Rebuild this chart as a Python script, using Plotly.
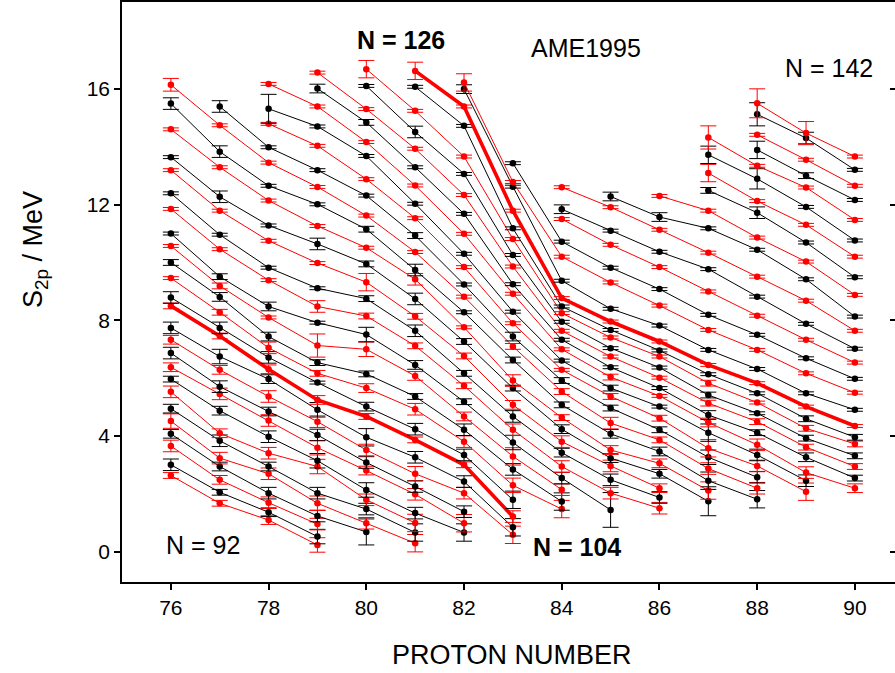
import plotly.graph_objects as go

# Proton number columns and first neutron number present in each column
Z_VALUES = [76, 77, 78, 79, 80, 81, 82, 83, 84, 85, 86, 87, 88, 89, 90]
N_START = [92, 92, 92, 92, 95, 96, 99, 102, 106, 109, 110, 113, 115, 118, 120]

# S2p (MeV) per proton number, in increasing N order starting at N_START
S2P_Z76 = [2.64, 3.01, 3.66, 4.08, 4.52, 4.95, 5.53, 5.97, 6.38, 6.87, 7.33, 7.74, 8.50, 8.79, 9.46, 10.00,
           10.57, 11.00, 11.85, 12.39, 13.19, 13.64, 14.60, 15.49, 16.14]
S2P_Z77 = [1.68, 2.06, 2.49, 2.95, 3.24, 3.84, 4.10, 4.88, 5.46, 5.71, 6.29, 6.75, 7.46, 7.74, 8.28, 8.81,
           9.19, 9.51, 10.46, 10.96, 11.79, 12.27, 13.29, 13.83, 14.74, 15.39]
S2P_Z78 = [1.10, 1.37, 1.70, 2.03, 2.70, 2.95, 3.41, 3.98, 4.54, 4.85, 5.37, 5.97, 6.31, 6.72, 7.05, 7.44,
           8.10, 8.48, 9.39, 9.82, 10.75, 11.28, 12.14, 12.65, 13.45, 13.98, 14.79, 15.31, 16.17]
S2P_Z79 = [0.24, 0.53, 0.96, 1.24, 1.68, 2.03, 2.95, 3.15, 3.60, 4.04, 4.50, 4.91, 5.25, 5.85, 6.17, 6.54,
           7.13, 7.92, 8.48, 9.11, 9.98, 10.64, 11.26, 12.01, 12.61, 13.19, 14.03, 14.70, 15.39, 16.01, 16.56]
S2P_Z80 = [0.69, 0.99, 1.48, 1.80, 2.14, 2.81, 3.09, 3.52, 3.96, 4.68, 5.02, 5.66, 6.15, 7.00, 7.51, 8.15,
           8.75, 9.32, 9.95, 10.51, 11.15, 11.62, 12.31, 12.88, 13.68, 14.16, 14.84, 15.30, 16.10, 16.68]
S2P_Z81 = [0.30, 0.67, 1.00, 1.34, 1.99, 2.26, 2.70, 3.27, 3.87, 4.24, 4.93, 5.37, 6.08, 6.46, 7.12, 7.64,
           8.14, 8.74, 9.42, 9.74, 10.36, 10.93, 11.53, 12.03, 12.66, 13.29, 13.93, 14.51, 15.24, 16.07, 16.62]
S2P_Z82 = [0.67, 0.99, 1.39, 2.03, 2.43, 3.01, 3.35, 3.81, 4.22, 4.68, 5.19, 5.74, 6.17, 6.77, 7.27, 7.76,
           8.28, 8.82, 9.24, 9.84, 10.30, 10.99, 11.68, 12.33, 13.06, 13.66, 14.72, 15.39, 15.99, 16.22]
S2P_Z83 = [0.59, 0.85, 1.22, 1.80, 2.30, 2.85, 3.30, 3.78, 4.22, 4.68, 5.08, 5.66, 5.92, 6.63, 7.10, 7.44,
           7.90, 8.30, 8.92, 9.25, 9.86, 10.26, 10.81, 11.18, 11.79, 12.62, 12.78, 13.43]
S2P_Z84 = [1.48, 1.74, 2.15, 2.55, 2.95, 3.43, 3.81, 4.24, 4.64, 5.08, 5.54, 5.92, 6.29, 6.61, 7.00, 7.33,
           7.64, 7.95, 8.25, 8.48, 8.77, 9.37, 10.20, 10.72, 11.50, 11.84, 12.60]
S2P_Z85 = [1.45, 2.03, 2.49, 2.97, 3.24, 3.52, 4.08, 4.45, 4.97, 5.37, 5.66, 6.04, 6.38, 6.75, 7.04, 7.41,
           7.67, 7.96, 8.40, 9.31, 9.82, 10.61, 11.10, 11.91, 12.28]
S2P_Z86 = [1.51, 1.88, 2.20, 2.70, 3.06, 3.47, 3.87, 4.22, 4.62, 5.02, 5.39, 5.66, 6.02, 6.37, 6.75, 6.96,
           7.27, 7.82, 8.51, 9.08, 9.84, 10.37, 11.13, 11.57, 12.30]
S2P_Z87 = [1.75, 2.12, 2.46, 2.88, 3.27, 3.58, 4.12, 4.47, 4.73, 5.14, 5.42, 5.83, 6.14, 6.46, 6.98, 7.67,
           8.19, 9.00, 9.77, 10.34, 11.18, 11.79, 12.49, 13.09, 13.72, 14.32]
S2P_Z88 = [1.82, 2.20, 2.58, 2.97, 3.35, 3.70, 4.12, 4.50, 4.79, 5.16, 5.48, 5.83, 6.32, 6.98, 7.50, 8.16,
           8.82, 9.51, 10.44, 10.86, 11.72, 12.12, 12.89, 13.34, 13.89, 14.41, 15.12, 15.50]
S2P_Z89 = [2.08, 2.46, 2.74, 3.27, 3.62, 3.93, 4.27, 4.60, 5.02, 5.48, 6.17, 6.69, 7.33, 7.88, 8.68, 9.42,
           10.03, 10.69, 11.30, 11.92, 12.59, 13.00, 13.55, 14.30, 14.47]
S2P_Z90 = [2.20, 2.55, 2.95, 3.32, 3.73, 3.96, 4.35, 4.91, 5.50, 5.98, 6.54, 7.02, 7.64, 8.13, 8.88, 9.49,
           10.20, 10.76, 11.47, 12.16, 12.65, 13.20, 13.66]

# uncertainties (MeV), same order
ERR_Z76 = [0.10, 0.20, 0.20, 0.15, 0.25, 0.15, 0.20, 0.10, 0.15, 0.20, 0.15, 0.20, 0.10, 0.20, 0.05, 0.10,
           0.05, 0.05, 0.05, 0.05, 0.05, 0.05, 0.05, 0.20, 0.22]
ERR_Z77 = [0.10, 0.10, 0.15, 0.15, 0.20, 0.20, 0.15, 0.15, 0.20, 0.20, 0.15, 0.25, 0.10, 0.20, 0.10, 0.15,
           0.10, 0.10, 0.05, 0.05, 0.05, 0.20, 0.05, 0.20, 0.05, 0.20]
ERR_Z78 = [0.15, 0.15, 0.20, 0.20, 0.20, 0.15, 0.20, 0.20, 0.20, 0.15, 0.20, 0.15, 0.15, 0.20, 0.20, 0.15,
           0.05, 0.15, 0.05, 0.05, 0.05, 0.05, 0.05, 0.05, 0.05, 0.05, 0.05, 0.50, 0.05]
ERR_Z79 = [0.25, 0.25, 0.20, 0.20, 0.25, 0.20, 0.25, 0.25, 0.25, 0.20, 0.20, 0.25, 0.15, 0.05, 0.10, 0.10,
           0.40, 0.05, 0.20, 0.05, 0.05, 0.20, 0.05, 0.05, 0.05, 0.05, 0.05, 0.05, 0.05, 0.15, 0.05]
ERR_Z80 = [0.45, 0.20, 0.20, 0.20, 0.25, 0.15, 0.20, 0.20, 0.30, 0.10, 0.15, 0.15, 0.10, 0.25, 0.25, 0.10,
           0.10, 0.30, 0.10, 0.05, 0.10, 0.05, 0.05, 0.05, 0.05, 0.05, 0.10, 0.05, 0.05, 0.30]
ERR_Z81 = [0.30, 0.30, 0.30, 0.20, 0.20, 0.20, 0.25, 0.20, 0.10, 0.20, 0.20, 0.10, 0.15, 0.15, 0.10, 0.20,
           0.10, 0.20, 0.20, 0.20, 0.05, 0.10, 0.05, 0.05, 0.05, 0.05, 0.05, 0.20, 0.05, 0.05, 0.30]
ERR_Z82 = [0.30, 0.30, 0.20, 0.20, 0.20, 0.10, 0.20, 0.20, 0.20, 0.15, 0.10, 0.10, 0.10, 0.10, 0.10, 0.05,
           0.05, 0.05, 0.05, 0.05, 0.05, 0.05, 0.05, 0.05, 0.05, 0.05, 0.05, 0.05, 0.15, 0.30]
ERR_Z83 = [0.30, 0.30, 0.20, 0.30, 0.25, 0.20, 0.30, 0.25, 0.20, 0.20, 0.15, 0.10, 0.20, 0.10, 0.10, 0.15,
           0.05, 0.05, 0.05, 0.05, 0.05, 0.05, 0.05, 0.05, 0.05, 0.05, 0.05, 0.05]
ERR_Z84 = [0.30, 0.30, 0.20, 0.20, 0.20, 0.15, 0.20, 0.15, 0.10, 0.10, 0.10, 0.10, 0.05, 0.05, 0.05, 0.05,
           0.05, 0.05, 0.05, 0.05, 0.05, 0.05, 0.05, 0.05, 0.05, 0.15, 0.05]
ERR_Z85 = [0.60, 0.20, 0.20, 0.20, 0.15, 0.15, 0.15, 0.20, 0.10, 0.10, 0.10, 0.10, 0.05, 0.05, 0.05, 0.05,
           0.05, 0.05, 0.05, 0.05, 0.05, 0.05, 0.05, 0.05, 0.15]
ERR_Z86 = [0.20, 0.20, 0.15, 0.15, 0.15, 0.15, 0.10, 0.10, 0.10, 0.05, 0.05, 0.05, 0.05, 0.05, 0.05, 0.05,
           0.05, 0.05, 0.05, 0.05, 0.05, 0.05, 0.05, 0.15, 0.05]
ERR_Z87 = [0.50, 0.30, 0.30, 0.20, 0.25, 0.30, 0.30, 0.15, 0.15, 0.10, 0.10, 0.10, 0.05, 0.05, 0.05, 0.05,
           0.05, 0.05, 0.05, 0.05, 0.05, 0.05, 0.10, 0.30, 0.30, 0.40]
ERR_Z88 = [0.30, 0.20, 0.20, 0.20, 0.20, 0.20, 0.10, 0.10, 0.05, 0.05, 0.05, 0.05, 0.05, 0.05, 0.05, 0.05,
           0.05, 0.05, 0.05, 0.05, 0.20, 0.05, 0.35, 0.05, 0.30, 0.05, 0.40, 0.50]
ERR_Z89 = [0.30, 0.20, 0.20, 0.15, 0.10, 0.10, 0.10, 0.10, 0.05, 0.05, 0.05, 0.05, 0.05, 0.05, 0.05, 0.05,
           0.05, 0.05, 0.05, 0.05, 0.05, 0.10, 0.05, 0.20, 0.40]
ERR_Z90 = [0.15, 0.10, 0.10, 0.10, 0.10, 0.10, 0.05, 0.05, 0.05, 0.05, 0.05, 0.05, 0.05, 0.05, 0.05, 0.05,
           0.05, 0.05, 0.05, 0.05, 0.05, 0.05, 0.05]

HIGHLIGHT_N = [104, 126]
Y_TICKS = [0, 4, 8, 12, 16]
X_TICKS = [76, 78, 80, 82, 84, 86, 88, 90]

S2P_COLUMNS = [S2P_Z76, S2P_Z77, S2P_Z78, S2P_Z79, S2P_Z80, S2P_Z81, S2P_Z82, S2P_Z83,
               S2P_Z84, S2P_Z85, S2P_Z86, S2P_Z87, S2P_Z88, S2P_Z89, S2P_Z90]
ERR_COLUMNS = [ERR_Z76, ERR_Z77, ERR_Z78, ERR_Z79, ERR_Z80, ERR_Z81, ERR_Z82, ERR_Z83,
               ERR_Z84, ERR_Z85, ERR_Z86, ERR_Z87, ERR_Z88, ERR_Z89, ERR_Z90]

FONT = "Liberation Sans, Arial, sans-serif"

# regroup by neutron number
lines = {}
for z, n0, vals, errs in zip(Z_VALUES, N_START, S2P_COLUMNS, ERR_COLUMNS):
    for i, (v, e) in enumerate(zip(vals, errs)):
        lines.setdefault(n0 + i, []).append((z, v, e))

fig = go.Figure()
for n in sorted(lines):
    pts = lines[n]
    color = "#ff0000" if n % 2 == 0 else "#000000"
    width = 3.6 if n in HIGHLIGHT_N else 1
    fig.add_trace(go.Scatter(
        x=[p[0] for p in pts], y=[p[1] for p in pts],
        mode="lines+markers",
        line=dict(color=color, width=width),
        marker=dict(color=color, size=6.5),
        error_y=dict(type="data", array=[p[2] for p in pts], visible=True,
                     color=color, thickness=1, width=8),
        showlegend=False, name=f"N = {n}",
    ))

# invisible trace for the right-side tick axis
fig.add_trace(go.Scatter(x=[None], y=[None], yaxis="y2", showlegend=False, hoverinfo="skip"))

x_min = 75
x_max = 75 + (895 - 122) / 48.86

fig.update_layout(
    width=895, height=673,
    margin=dict(l=122, r=0, t=2, b=91),
    paper_bgcolor="white", plot_bgcolor="white",
    font=dict(family=FONT, color="black"),
    xaxis=dict(range=[x_min, x_max], tickvals=X_TICKS, ticks="outside", ticklen=6,
               tickwidth=1.5, tickcolor="black", showline=True, linecolor="black",
               linewidth=1.5, mirror=True, showgrid=False, zeroline=False,
               tickfont=dict(size=21, family=FONT)),
    yaxis=dict(range=[-1.04, 19.0], tickvals=Y_TICKS, ticks="outside", ticklen=6,
               tickwidth=1.5, tickcolor="black", showline=True, linecolor="black",
               linewidth=1.5, showgrid=False, zeroline=False,
               tickfont=dict(size=21, family=FONT)),
    yaxis2=dict(range=[-1.04, 19.0], overlaying="y", side="right", tickvals=Y_TICKS,
                ticks="inside", ticklen=5, tickwidth=1.5, tickcolor="black",
                showticklabels=False, showline=False, showgrid=False, zeroline=False),
)

fig.add_annotation(text="S<sub>2p</sub> / MeV", xref="paper", yref="paper",
                   x=(35 - 122) / 773, y=(582 - 250) / 580, textangle=-90,
                   showarrow=False, font=dict(size=27, family=FONT),
                   xanchor="center", yanchor="middle")
fig.add_annotation(text="PROTON NUMBER", xref="paper", yref="paper",
                   x=(512 - 122) / 773, y=(582 - 655) / 580,
                   showarrow=False, font=dict(size=27, family=FONT),
                   xanchor="center", yanchor="middle")

labels = [
    ("<b>N = 126</b>", 80.71, 17.69),
    ("AME1995", 84.50, 17.42),
    ("N = 142", 89.47, 16.72),
    ("N = 92", 76.66, 0.24),
    ("<b>N = 104</b>", 84.31, 0.17),
]
for txt, lx, ly in labels:
    fig.add_annotation(text=txt, x=lx, y=ly, showarrow=False,
                       font=dict(size=25, family=FONT), xanchor="center", yanchor="middle")

fig.write_html("out.html")
